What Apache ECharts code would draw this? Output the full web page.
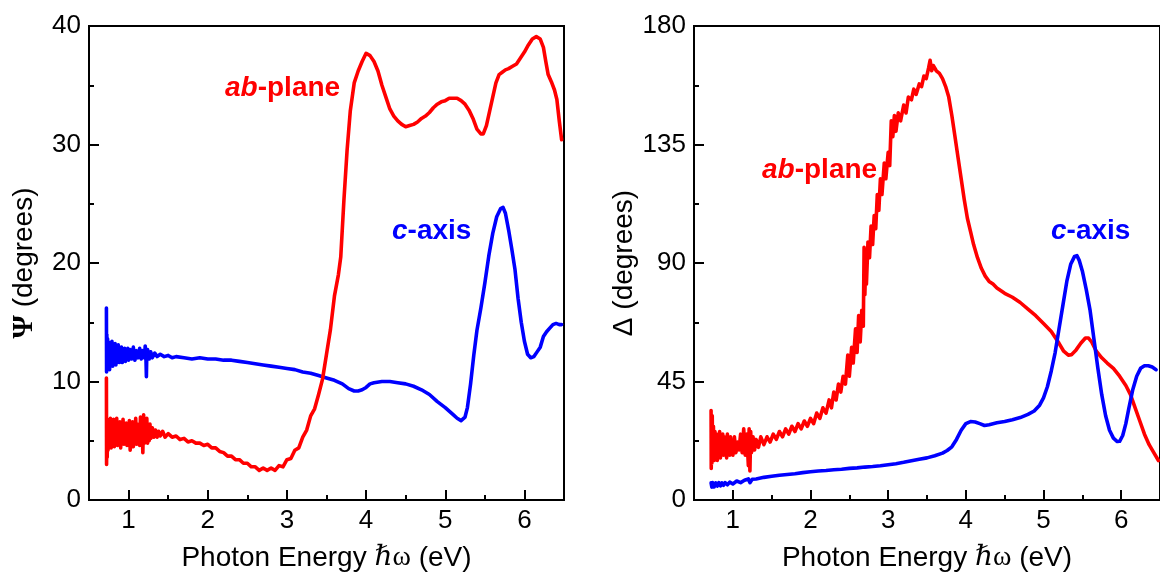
<!DOCTYPE html>
<html>
<head>
<meta charset="utf-8">
<title>Psi and Delta spectra</title>
<script src="https://cdn.jsdelivr.net/npm/echarts@6/dist/echarts.min.js"></script>
<style>
  html, body { margin: 0; padding: 0; background: #fff; }
  #chart { width: 1160px; height: 577px; }
</style>
</head>
<body>
<div id="chart"></div>
<script>
// tick labels
const energyTicks = [1, 2, 3, 4, 5, 6];
const energyMinorTicks = [1.5, 2.5, 3.5, 4.5, 5.5];

// Psi, ab-plane  [photon energy (eV), degrees]
const psiAb = [
  [0.72, 10.3], [0.722, 3.0], [0.725, 6.5], [0.73, 3.6], [0.735, 6.8], [0.74, 4.2], [0.75, 6.6], [0.76, 4.6],
  [0.77, 6.9], [0.78, 4.4], [0.79, 6.2], [0.80, 4.8], [0.81, 6.8], [0.82, 4.5], [0.83, 6.4], [0.84, 4.9],
  [0.85, 6.9], [0.86, 4.6], [0.87, 6.1], [0.88, 5.0], [0.89, 6.6], [0.90, 4.4], [0.91, 6.3], [0.92, 4.9],
  [0.93, 6.8], [0.94, 4.7], [0.95, 6.2], [0.96, 5.1], [0.97, 6.5], [0.98, 4.6], [0.99, 6.0], [1.00, 4.9],
  [1.01, 6.7], [1.02, 4.2], [1.03, 6.3], [1.04, 5.0], [1.05, 6.6], [1.06, 4.5], [1.07, 6.1], [1.08, 5.0],
  [1.09, 6.9], [1.10, 4.7], [1.11, 6.4], [1.12, 5.1], [1.13, 6.2], [1.14, 4.6], [1.15, 7.0], [1.16, 4.9],
  [1.17, 6.6], [1.18, 4.0], [1.19, 7.2], [1.20, 4.8], [1.21, 6.5], [1.22, 5.2], [1.23, 6.9], [1.24, 4.8],
  [1.25, 6.3], [1.26, 5.0], [1.27, 6.4], [1.28, 5.2], [1.30, 6.1], [1.32, 5.3], [1.34, 5.9], [1.36, 5.3],
  [1.38, 5.8], [1.40, 5.4], [1.43, 5.8], [1.46, 5.3], [1.50, 5.6], [1.55, 5.3], [1.60, 5.4], [1.65, 5.1],
  [1.70, 5.2], [1.75, 4.9], [1.80, 5.0], [1.85, 4.8], [1.90, 4.8], [1.95, 4.6], [2.00, 4.7], [2.05, 4.4],
  [2.10, 4.4], [2.15, 4.1], [2.20, 4.0], [2.25, 3.7], [2.30, 3.7], [2.35, 3.4], [2.40, 3.4], [2.45, 3.1],
  [2.50, 3.1], [2.55, 2.8], [2.60, 2.8], [2.65, 2.5], [2.70, 2.7], [2.75, 2.5], [2.80, 2.7], [2.85, 2.5],
  [2.90, 2.9], [2.95, 2.8], [3.00, 3.4], [3.05, 3.5], [3.10, 4.2], [3.15, 4.4], [3.20, 5.3], [3.25, 5.9],
  [3.30, 7.1], [3.35, 7.7], [3.40, 8.9], [3.45, 10.2], [3.50, 12.3], [3.55, 14.4], [3.60, 17.2], [3.65, 19.0],
  [3.68, 20.5], [3.72, 25.3], [3.76, 29.5], [3.80, 32.8], [3.85, 35.2], [3.90, 36.2], [3.95, 37.0], [4.00, 37.7],
  [4.05, 37.5], [4.10, 37.0], [4.15, 36.2], [4.20, 35.0], [4.25, 34.0], [4.30, 33.0], [4.35, 32.4], [4.40, 32.0],
  [4.45, 31.7], [4.50, 31.5], [4.55, 31.6], [4.60, 31.7], [4.65, 31.9], [4.70, 32.2], [4.75, 32.4], [4.80, 32.7],
  [4.85, 33.1], [4.90, 33.4], [4.95, 33.6], [5.00, 33.7], [5.05, 33.9], [5.10, 33.9], [5.15, 33.9], [5.20, 33.7],
  [5.25, 33.4], [5.30, 32.9], [5.35, 32.2], [5.40, 31.3], [5.45, 30.9], [5.48, 30.9], [5.52, 31.6], [5.56, 32.8],
  [5.60, 34.0], [5.64, 35.2], [5.68, 35.9], [5.72, 36.1], [5.76, 36.3], [5.80, 36.4], [5.85, 36.6], [5.90, 36.8],
  [5.95, 37.3], [6.00, 37.8], [6.05, 38.4], [6.10, 38.9], [6.15, 39.1], [6.20, 38.9], [6.24, 38.2], [6.27, 37.0],
  [6.30, 35.9], [6.34, 35.3], [6.38, 34.6], [6.41, 33.8], [6.44, 32.0], [6.47, 30.4]
];

// Psi, c-axis
const psiC = [
  [0.72, 16.2], [0.722, 10.8], [0.725, 14.0], [0.73, 11.0], [0.735, 13.6], [0.74, 11.2], [0.75, 13.3], [0.76, 11.0],
  [0.77, 13.0], [0.78, 11.5], [0.79, 13.4], [0.80, 11.3], [0.81, 12.9], [0.82, 11.7], [0.83, 13.2], [0.84, 11.4],
  [0.85, 12.8], [0.86, 11.8], [0.87, 13.1], [0.88, 11.6], [0.89, 12.7], [0.90, 11.9], [0.91, 12.9], [0.92, 11.6],
  [0.93, 12.6], [0.94, 11.9], [0.95, 12.8], [0.96, 11.7], [0.97, 12.6], [0.98, 12.0], [0.99, 12.8], [1.00, 11.8],
  [1.02, 12.7], [1.04, 11.9], [1.06, 12.9], [1.08, 11.8], [1.10, 12.6], [1.12, 12.0], [1.14, 12.8], [1.16, 11.9],
  [1.18, 12.6], [1.20, 12.0], [1.21, 13.0], [1.22, 11.8], [1.225, 10.4], [1.23, 12.3], [1.24, 12.7], [1.26, 11.9],
  [1.28, 12.5], [1.30, 12.0], [1.33, 12.4], [1.36, 12.1], [1.40, 12.3], [1.45, 12.1], [1.50, 12.2], [1.55, 12.0],
  [1.60, 12.1], [1.70, 12.0], [1.80, 11.9], [1.90, 12.0], [2.00, 11.9], [2.10, 11.9], [2.20, 11.8], [2.30, 11.8],
  [2.40, 11.7], [2.50, 11.6], [2.60, 11.5], [2.70, 11.4], [2.80, 11.3], [2.90, 11.2], [3.00, 11.1], [3.10, 11.0],
  [3.20, 10.8], [3.30, 10.7], [3.40, 10.5], [3.50, 10.3], [3.60, 10.1], [3.70, 9.8], [3.78, 9.4], [3.85, 9.2],
  [3.90, 9.2], [3.95, 9.3], [4.00, 9.5], [4.05, 9.8], [4.10, 9.9], [4.20, 10.0], [4.30, 10.0], [4.40, 9.9],
  [4.50, 9.8], [4.60, 9.6], [4.70, 9.3], [4.80, 8.9], [4.90, 8.3], [5.00, 7.8], [5.10, 7.2], [5.15, 6.9],
  [5.20, 6.7], [5.25, 7.0], [5.28, 7.8], [5.32, 9.8], [5.36, 12.2], [5.40, 14.3], [5.45, 16.2], [5.50, 18.3],
  [5.55, 20.6], [5.60, 22.5], [5.65, 23.9], [5.70, 24.6], [5.73, 24.7], [5.76, 24.2], [5.80, 22.8], [5.84, 21.2],
  [5.88, 19.5], [5.92, 17.0], [5.96, 15.0], [6.00, 13.4], [6.04, 12.3], [6.08, 12.0], [6.12, 12.1], [6.16, 12.5],
  [6.20, 12.9], [6.24, 13.8], [6.28, 14.2], [6.32, 14.5], [6.36, 14.8], [6.40, 14.9], [6.44, 14.8], [6.47, 14.8]
];

// Delta, ab-plane
const deltaAb = [
  [0.72, 34], [0.722, 12], [0.725, 30], [0.73, 14], [0.735, 32], [0.74, 16], [0.75, 28], [0.76, 15],
  [0.77, 26], [0.78, 17], [0.79, 25], [0.80, 15], [0.81, 24], [0.82, 17], [0.83, 26], [0.84, 16],
  [0.85, 23], [0.86, 18], [0.87, 25], [0.88, 17], [0.89, 24], [0.90, 18], [0.91, 22], [0.92, 16],
  [0.93, 25], [0.94, 18], [0.95, 23], [0.96, 17], [0.97, 24], [0.98, 19], [0.99, 22], [1.00, 17],
  [1.02, 24], [1.04, 18], [1.06, 22], [1.08, 19], [1.10, 25], [1.12, 18], [1.14, 27], [1.16, 17],
  [1.18, 25], [1.20, 13], [1.21, 27], [1.22, 11], [1.23, 26], [1.24, 18], [1.26, 24], [1.28, 19],
  [1.30, 23], [1.33, 20], [1.36, 24], [1.40, 21], [1.44, 24], [1.48, 22], [1.52, 25], [1.56, 23],
  [1.60, 26], [1.64, 24], [1.68, 27], [1.72, 25], [1.76, 28], [1.80, 26], [1.84, 29], [1.88, 27],
  [1.92, 30], [1.96, 28], [2.00, 31], [2.04, 29], [2.08, 33], [2.12, 31], [2.16, 35], [2.20, 33],
  [2.24, 38], [2.27, 35], [2.30, 41], [2.33, 38], [2.36, 44], [2.39, 41], [2.42, 47], [2.45, 44],
  [2.48, 55], [2.50, 47], [2.53, 58], [2.55, 52], [2.58, 65], [2.60, 56], [2.62, 70], [2.64, 60],
  [2.66, 72], [2.68, 66], [2.69, 96], [2.70, 78], [2.71, 90], [2.72, 82], [2.74, 98], [2.76, 92],
  [2.78, 104], [2.80, 97], [2.82, 108], [2.84, 103], [2.86, 116], [2.88, 110], [2.90, 122], [2.92, 116],
  [2.95, 128], [2.97, 122], [3.00, 132], [3.02, 127], [3.04, 144], [3.06, 138], [3.08, 146], [3.10, 140],
  [3.13, 147], [3.16, 144], [3.20, 150], [3.23, 147], [3.26, 153], [3.30, 152], [3.33, 156], [3.36, 154],
  [3.40, 158], [3.43, 157], [3.46, 161], [3.49, 160], [3.52, 164], [3.54, 167], [3.56, 163], [3.58, 165],
  [3.62, 163], [3.66, 162], [3.70, 160], [3.74, 157], [3.78, 153], [3.82, 146], [3.86, 138], [3.90, 130],
  [3.94, 122], [3.98, 114], [4.02, 107], [4.06, 102], [4.10, 97], [4.15, 92], [4.20, 88], [4.25, 85],
  [4.30, 83], [4.35, 82], [4.40, 80.5], [4.50, 78.5], [4.60, 77], [4.70, 75], [4.80, 72.5], [4.90, 70],
  [5.00, 67], [5.10, 64], [5.20, 59.5], [5.26, 56.5], [5.32, 55], [5.36, 55.2], [5.42, 57], [5.48, 59.5],
  [5.54, 61.5], [5.58, 61.5], [5.62, 60], [5.68, 56.5], [5.75, 54], [5.82, 52], [5.90, 50], [5.98, 47],
  [6.06, 43.5], [6.12, 40], [6.18, 35], [6.24, 30], [6.30, 25], [6.36, 21], [6.42, 18], [6.48, 15]
];

// Delta, c-axis
const deltaC = [
  [0.72, 6.5], [0.73, 4.9], [0.74, 6.6], [0.76, 5.0], [0.78, 6.5], [0.80, 5.3], [0.82, 6.6], [0.84, 5.4],
  [0.86, 6.5], [0.88, 5.6], [0.90, 6.6], [0.93, 5.8], [0.96, 6.8], [1.00, 6.1], [1.05, 7.2], [1.10, 6.6],
  [1.15, 7.5], [1.20, 8.0], [1.22, 6.6], [1.25, 7.9], [1.30, 8.0], [1.40, 8.6], [1.50, 9.0], [1.60, 9.4],
  [1.70, 9.7], [1.80, 10.0], [1.90, 10.4], [2.00, 10.7], [2.10, 11.0], [2.20, 11.2], [2.30, 11.5], [2.40, 11.7],
  [2.50, 12.0], [2.60, 12.2], [2.70, 12.5], [2.80, 12.7], [2.90, 13.0], [3.00, 13.4], [3.10, 13.8], [3.20, 14.3],
  [3.30, 14.9], [3.40, 15.5], [3.50, 16.0], [3.60, 16.8], [3.70, 17.8], [3.76, 18.8], [3.82, 20.2], [3.88, 23.0],
  [3.94, 26.5], [4.00, 29.0], [4.06, 29.8], [4.12, 29.6], [4.18, 29.0], [4.24, 28.3], [4.30, 28.6], [4.40, 29.3],
  [4.50, 29.8], [4.60, 30.5], [4.70, 31.3], [4.80, 32.5], [4.88, 33.8], [4.95, 36.0], [5.00, 38.8], [5.05, 43.0],
  [5.10, 49.0], [5.15, 56], [5.20, 65], [5.25, 74], [5.30, 83], [5.35, 89.5], [5.40, 92.5], [5.43, 92.8],
  [5.46, 91], [5.50, 87], [5.55, 80], [5.60, 72], [5.65, 61], [5.70, 50], [5.75, 40], [5.80, 32],
  [5.85, 26.5], [5.90, 23.5], [5.95, 22.2], [5.98, 22.3], [6.02, 24.5], [6.06, 29], [6.10, 35], [6.15, 42],
  [6.20, 47], [6.25, 50], [6.30, 51], [6.35, 51], [6.40, 50.5], [6.45, 49.5]
];

const RED = '#ff0000';
const BLUE = '#0000ff';
const FONT = 'Liberation Sans, Arial, sans-serif';
const SERIF = 'Liberation Serif, DejaVu Serif, serif';

const chart = echarts.init(document.getElementById('chart'), null, { renderer: 'canvas' });

function energyAxes(gridIndex) {
  return [
    {
      type: 'value', gridIndex: gridIndex, min: 0.5, max: 6.5,
      name: 'Photon Energy {h|ℏ}{w|ω} (eV)',
      nameLocation: 'middle', nameGap: 44,
      nameTextStyle: {
        fontSize: 28, color: '#000', fontFamily: FONT,
        rich: {
          h: { fontSize: 28, fontFamily: SERIF, fontStyle: 'italic', color: '#000' },
          w: { fontSize: 28, fontFamily: SERIF, color: '#000' }
        }
      },
      axisLine: { lineStyle: { color: '#000', width: 2 } },
      axisTick: { inside: true, length: 10, lineStyle: { color: '#000', width: 2 }, customValues: energyTicks },
      axisLabel: { fontSize: 26, color: '#000', fontFamily: FONT, margin: 8, customValues: energyTicks },
      splitLine: { show: false }
    },
    {
      // minor ticks only
      type: 'value', gridIndex: gridIndex, min: 0.5, max: 6.5, position: 'bottom',
      axisLine: { show: false },
      axisTick: { inside: true, length: 5, lineStyle: { color: '#000', width: 2 }, customValues: energyMinorTicks },
      axisLabel: { show: false },
      splitLine: { show: false }
    }
  ];
}

function valueAxis(gridIndex, max, interval, name, nameGap) {
  return {
    type: 'value', gridIndex: gridIndex, min: 0, max: max, interval: interval,
    name: name, nameLocation: 'middle', nameGap: nameGap, nameRotate: 90,
    nameTextStyle: {
      fontSize: 28, color: '#000', fontFamily: FONT,
      rich: { g: { fontSize: 30, fontFamily: SERIF, fontWeight: 'bold', color: '#000' } }
    },
    axisLine: { show: true, lineStyle: { color: '#000', width: 2 } },
    axisTick: { inside: true, length: 10, lineStyle: { color: '#000', width: 2 } },
    minorTick: { show: true, splitNumber: 2, length: 5, lineStyle: { color: '#000', width: 2 } },
    axisLabel: { fontSize: 26, color: '#000', fontFamily: FONT, margin: 8 },
    splitLine: { show: false }
  };
}

function lineSeries(data, color, xAxisIndex, yAxisIndex, z) {
  return {
    type: 'line', data: data, xAxisIndex: xAxisIndex, yAxisIndex: yAxisIndex,
    showSymbol: false, symbol: 'none', smooth: false, z: z,
    lineStyle: { color: color, width: 3.6, join: 'round', cap: 'round' }, itemStyle: { color: color },
    animation: false
  };
}

function label(x, y, italicPart, rest, color) {
  return {
    type: 'text', x: x, y: y,
    style: {
      text: '{i|' + italicPart + '}{n|' + rest + '}',
      verticalAlign: 'middle',
      fill: color,
      rich: {
        i: { fontSize: 28, fontWeight: 'bold', fontStyle: 'italic', fontFamily: FONT, fill: color },
        n: { fontSize: 28, fontWeight: 'bold', fontFamily: FONT, fill: color }
      }
    }
  };
}

const option = {
  backgroundColor: '#fff',
  animation: false,
  grid: [
    { left: 89, top: 26, width: 475, height: 475, show: true, borderColor: '#000', borderWidth: 2, backgroundColor: 'transparent' },
    { left: 694, top: 26, width: 475, height: 475, show: true, borderColor: '#000', borderWidth: 2, backgroundColor: 'transparent' }
  ],
  xAxis: energyAxes(0).concat(energyAxes(1)),
  yAxis: [
    valueAxis(0, 40, 10, '{g|Ψ} (degrees)', 50),
    valueAxis(1, 180, 45, 'Δ (degrees)', 56)
  ],
  series: [
    lineSeries(psiC, BLUE, 0, 0, 2),
    lineSeries(psiAb, RED, 0, 0, 3),
    lineSeries(deltaAb, RED, 2, 1, 2),
    lineSeries(deltaC, BLUE, 2, 1, 3)
  ],
  graphic: [
    label(225, 88, 'ab', '-plane', RED),
    label(392, 231, 'c', '-axis', BLUE),
    label(762, 170, 'ab', '-plane', RED),
    label(1051, 231, 'c', '-axis', BLUE)
  ]
};

chart.setOption(option);
</script>
</body>
</html>
